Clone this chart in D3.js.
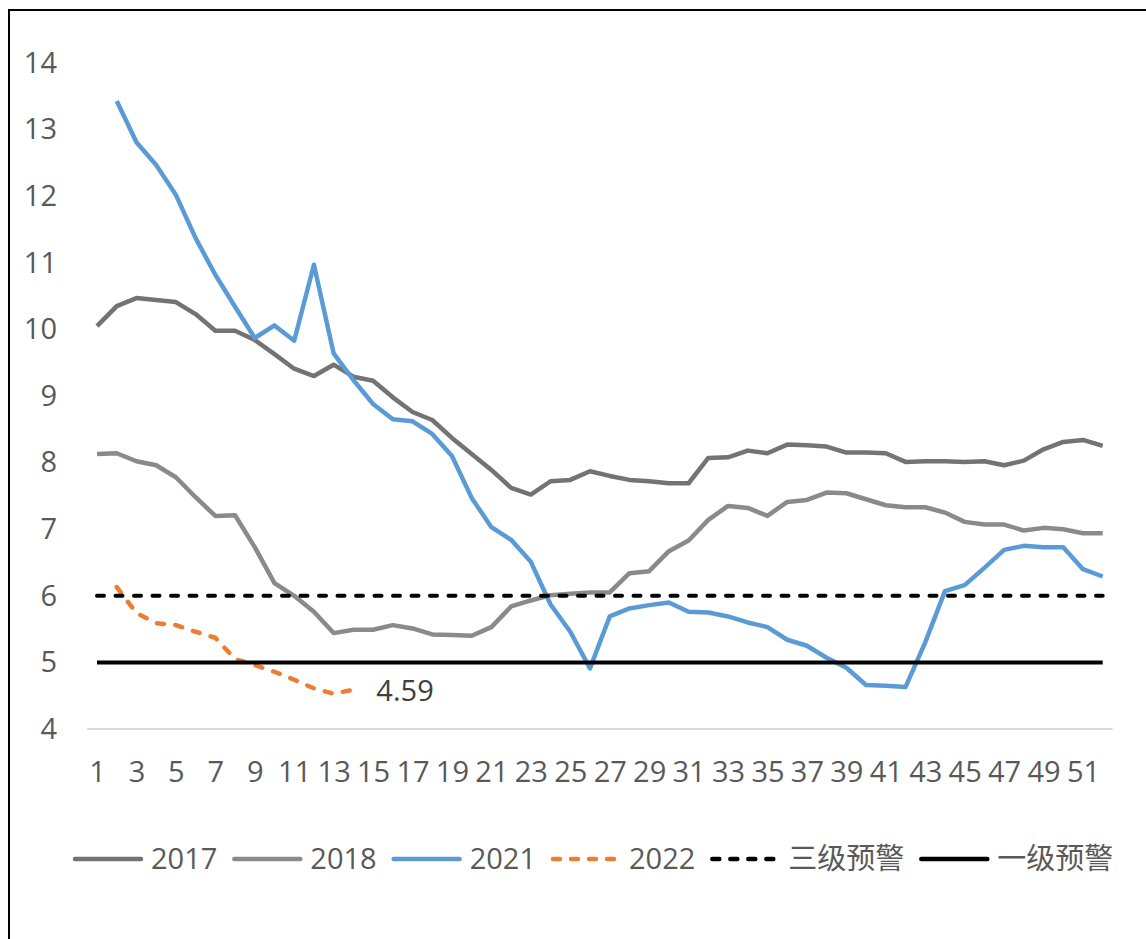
<!DOCTYPE html>
<html>
<head>
<meta charset="utf-8">
<script src="https://cdn.jsdelivr.net/npm/d3@7"></script>
<style>
  body { margin: 0; background: #fff; }
  text { font-family: "Open Sans", "Noto Sans CJK SC", sans-serif; }
</style>
</head>
<body>
<div class="chart"></div>
<script>
// weekly values, week 1..52
var weeks = d3.range(1, 53);
var s2017 = [10.05,10.35,10.47,10.44,10.41,10.23,9.98,9.98,9.84,9.63,9.41,9.30,9.47,9.29,9.23,8.98,8.76,8.64,8.37,8.13,
             7.89,7.62,7.52,7.72,7.74,7.87,7.80,7.74,7.72,7.69,7.69,8.07,8.08,8.18,8.14,8.27,8.26,8.24,8.15,8.15,
             8.14,8.01,8.02,8.02,8.01,8.02,7.96,8.03,8.20,8.31,8.34,8.25];
var s2018 = [8.13,8.14,8.02,7.96,7.78,7.48,7.20,7.21,6.73,6.19,6.00,5.76,5.44,5.49,5.49,5.56,5.51,5.42,5.41,5.40,
             5.53,5.84,5.93,6.01,6.03,6.05,6.05,6.34,6.37,6.67,6.83,7.14,7.35,7.32,7.20,7.41,7.44,7.55,7.54,7.45,
             7.36,7.33,7.33,7.25,7.11,7.07,7.07,6.98,7.02,7.00,6.94,6.94];
var s2021 = [null,13.43,12.81,12.47,12.02,11.37,10.82,10.34,9.87,10.06,9.83,10.97,9.64,9.24,8.88,8.65,8.62,8.43,8.10,7.47,
             7.03,6.84,6.51,5.87,5.46,4.91,5.69,5.81,5.86,5.90,5.76,5.75,5.69,5.60,5.53,5.34,5.25,5.07,4.92,4.66,
             4.65,4.63,5.30,6.07,6.16,6.42,6.69,6.75,6.73,6.73,6.40,6.29];
var s2022 = [null,6.13,5.74,5.59,5.56,5.46,5.37,5.05,4.96,4.86,4.74,4.61,4.53,4.59];
var level3 = 6;   // 三级预警
var level1 = 5;   // 一级预警
var yTicks = [4,5,6,7,8,9,10,11,12,13,14];
var xTicks = d3.range(1, 53, 2);
var lastLabel = "4.59";

var seriesNames = ["2017", "2018", "2021", "2022", "三级预警", "一级预警"];
var seriesColors = ["#737373", "#8a8a8a", "#5b9bd5", "#ed7d31", "#000000", "#000000"];
var seriesDashed = [false, false, false, true, true, false];

var width = 1146, height = 939;
var fontSize = 29;
var svg = d3.select(".chart").append("svg")
    .attr("width", width)
    .attr("height", height);

svg.append("rect").attr("width", width).attr("height", height).attr("fill", "#fff");

// outer frame (only top and left edges show)
svg.append("path")
    .attr("d", "M9," + height + "V10H" + width)
    .attr("fill", "none")
    .attr("stroke", "#000")
    .attr("stroke-width", 2);

var x = d3.scalePoint().domain(weeks).range([97, 1102.7]);
var step = x.step();
var y = d3.scaleLinear().domain([4, 14]).range([729, 63]);

// category axis line
svg.append("line")
    .attr("x1", x(1) - step / 2).attr("x2", x(52) + step / 2)
    .attr("y1", y(4)).attr("y2", y(4))
    .attr("stroke", "#d9d9d9").attr("stroke-width", 2);

var xAxis = svg.append("g")
    .attr("transform", "translate(0," + y(4) + ")")
    .call(d3.axisBottom(x).tickValues(xTicks).tickSize(0).tickPadding(32));
xAxis.select(".domain").remove();
xAxis.selectAll("text").attr("font-size", fontSize).attr("fill", "#595959")
    .style("font-family", "'Open Sans', sans-serif");

var yAxis = svg.append("g")
    .attr("transform", "translate(87,0)")
    .call(d3.axisLeft(y).tickValues(yTicks).tickFormat(d3.format("d")).tickSize(0).tickPadding(30));
yAxis.select(".domain").remove();
yAxis.selectAll("text").attr("font-size", fontSize).attr("fill", "#595959")
    .style("font-family", "'Open Sans', sans-serif");

var line = d3.line()
    .defined(function(d) { return d[1] != null; })
    .x(function(d) { return x(d[0]); })
    .y(function(d) { return y(d[1]); });

function pairs(arr) {
  return arr.map(function(v, i) { return [weeks[i], v]; });
}

var seriesData = [
  pairs(s2017),
  pairs(s2018),
  pairs(s2021),
  pairs(s2022),
  [[weeks[0], level3], [weeks[weeks.length - 1], level3]],
  [[weeks[0], level1], [weeks[weeks.length - 1], level1]]
];

seriesData.forEach(function(d, i) {
  svg.append("path")
      .datum(d)
      .attr("d", line)
      .attr("fill", "none")
      .attr("stroke", seriesColors[i])
      .attr("stroke-width", i >= 4 ? 4 : 4.5)
      .attr("stroke-linejoin", "round")
      .attr("stroke-linecap", seriesDashed[i] ? "round" : "butt")
      .attr("stroke-dasharray", seriesDashed[i] ? "7,11.5" : null);
});

// label at last 2022 point
var lastIdx = s2022.length - 1;
svg.append("text")
    .attr("x", x(weeks[lastIdx]) + 23)
    .attr("y", y(s2022[lastIdx]) + 11)
    .attr("font-size", fontSize)
    .attr("fill", "#404040")
    .text(lastLabel);

// legend
var legend = svg.append("g").attr("transform", "translate(0,859)");
var lx = 73;
seriesNames.forEach(function(name, i) {
  legend.append("line")
      .attr("x1", lx + 2).attr("x2", lx + 68)
      .attr("y1", 0).attr("y2", 0)
      .attr("stroke", seriesColors[i])
      .attr("stroke-width", 4.5)
      .attr("stroke-linecap", "round")
      .attr("stroke-dasharray", seriesDashed[i] ? "7,11" : null);
  var t = legend.append("text")
      .attr("x", lx + 78)
      .attr("y", 10)
      .attr("font-size", fontSize)
      .attr("fill", "#595959")
      .text(name);
  lx = lx + 78 + t.node().getComputedTextLength() + 15;
});
</script>
</body>
</html>
